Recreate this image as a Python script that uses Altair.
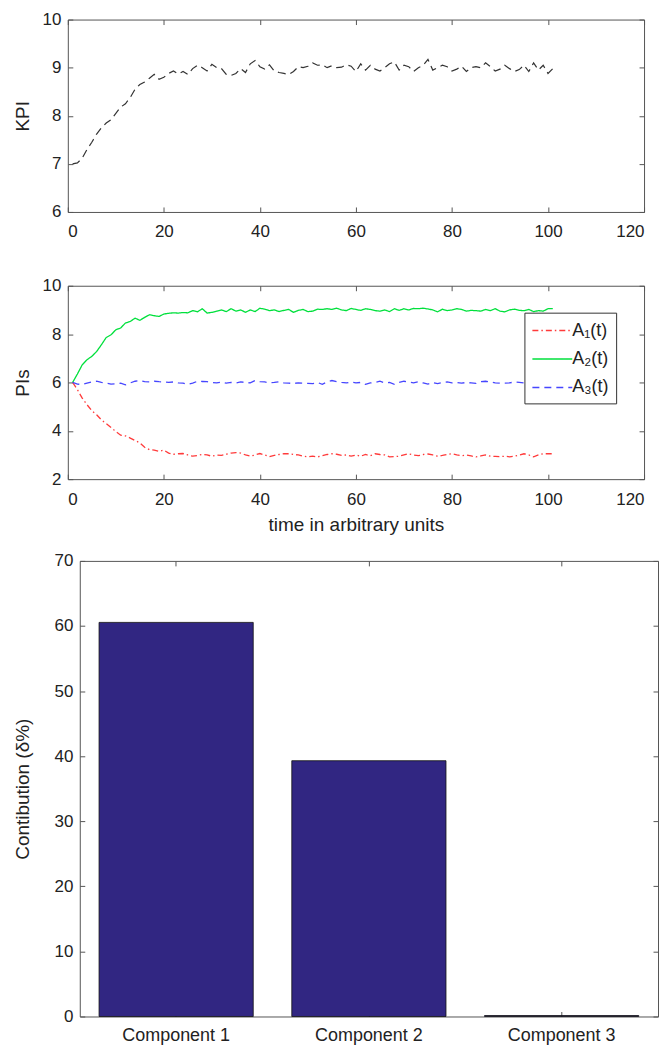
import altair as alt
import pandas as pd

# ---------------- data ----------------
t = list(range(1, 102))

kpi = [7.00, 7.02, 7.12, 7.30, 7.45, 7.62, 7.75, 7.85, 7.92, 8.05,
       8.18, 8.25, 8.38, 8.55, 8.65, 8.70, 8.78, 8.86, 8.76, 8.80,
       8.88, 8.93, 8.87, 8.92, 8.86, 8.98, 9.05, 9.00, 8.93, 9.07,
       9.00, 8.98, 8.86, 8.84, 8.88, 8.98, 8.90, 9.08, 9.15, 9.02,
       8.97, 9.06, 8.93, 8.90, 8.88, 8.86, 8.92, 9.02, 9.00, 9.03,
       9.10, 9.05, 9.06, 9.00, 9.04, 9.00, 9.01, 9.06, 9.03, 8.92,
       9.08, 8.95, 9.05, 8.97, 8.93, 9.00, 9.08, 9.12, 8.95, 9.05,
       9.02, 8.92, 9.00, 9.05, 9.17, 8.95, 9.00, 9.05, 9.02, 8.93,
       8.97, 9.03, 8.92, 9.00, 9.02, 9.00, 9.10, 9.02, 8.93, 8.97,
       9.05, 8.98, 8.92, 8.96, 9.05, 8.92, 9.10, 8.95, 9.05, 8.88, 8.98]

a1 = [6.00, 5.70, 5.35, 5.08, 4.83, 4.66, 4.45, 4.30, 4.14, 3.97,
      3.82, 3.79, 3.70, 3.60, 3.50, 3.32, 3.22, 3.20, 3.15, 3.20,
      3.08, 3.03, 3.05, 3.06, 3.00, 2.95, 2.98, 3.02, 3.00, 2.95,
      3.00, 2.98, 3.03, 3.08, 3.10, 3.08, 3.00, 2.95, 3.00, 3.06,
      3.00, 2.93, 2.98, 3.02, 3.05, 3.05, 3.02, 3.00, 2.95, 2.92,
      2.95, 2.92, 2.97, 3.02, 3.05, 3.03, 2.98, 3.00, 2.95, 3.00,
      2.95, 3.02, 2.97, 3.05, 3.02, 3.00, 2.92, 2.93, 2.95, 3.00,
      3.05, 3.00, 2.97, 3.02, 3.04, 3.00, 2.95, 2.98, 3.02, 3.05,
      3.00, 2.97, 3.00, 2.96, 2.92, 2.96, 3.00, 2.95, 2.94, 2.93,
      2.95, 2.92, 2.95, 3.00, 3.05, 3.00, 2.92, 3.00, 3.05, 3.05, 3.05]

a2 = [6.00, 6.35, 6.73, 6.94, 7.08, 7.28, 7.56, 7.86, 7.97, 8.18,
      8.25, 8.46, 8.52, 8.66, 8.57, 8.69, 8.80, 8.76, 8.73, 8.83,
      8.86, 8.88, 8.87, 8.89, 8.88, 8.97, 8.92, 9.05, 8.87, 8.90,
      8.95, 9.00, 8.93, 9.05, 8.95, 9.00, 8.90, 9.00, 8.93, 9.07,
      9.03, 8.97, 9.00, 8.93, 8.98, 9.02, 8.90, 8.98, 9.02, 8.93,
      8.95, 9.03, 9.02, 9.05, 9.02, 9.07, 9.00, 8.97, 9.06, 9.02,
      8.98, 9.05, 9.02, 8.97, 8.95, 9.00, 8.93, 9.05, 8.98, 9.05,
      9.00, 9.06, 9.05, 9.07, 9.04, 9.00, 8.92, 9.03, 8.97, 9.00,
      9.05, 9.02, 8.95, 8.98, 8.97, 8.95, 9.02, 8.97, 9.05, 8.95,
      8.92, 9.00, 9.03, 8.98, 8.97, 9.02, 8.93, 8.97, 8.95, 9.05, 9.05]

a3 = [6.00, 5.93, 5.92, 5.97, 6.02, 6.05, 6.00, 5.97, 5.93, 5.94,
      5.97, 5.90, 5.98, 6.05, 6.08, 6.03, 6.02, 6.05, 6.03, 6.02,
      6.00, 6.02, 5.98, 5.97, 5.92, 5.97, 6.05, 6.04, 6.03, 6.00,
      5.98, 6.02, 5.97, 6.00, 5.98, 6.02, 6.00, 5.98, 6.08, 6.03,
      6.02, 5.98, 6.00, 6.03, 5.98, 5.97, 5.96, 5.98, 5.97, 5.96,
      5.95, 6.00, 5.92, 6.03, 6.08, 6.03, 6.00, 5.98, 6.02, 5.98,
      6.00, 5.92, 5.98, 6.00, 6.05, 5.98, 6.00, 5.92, 6.00, 6.05,
      6.02, 5.98, 6.03, 5.98, 5.93, 6.00, 5.95, 6.00, 6.02, 5.98,
      6.00, 5.97, 6.00, 5.98, 5.96, 6.03, 6.05, 6.02, 5.98, 5.97,
      5.97, 5.98, 6.02, 6.00, 5.98, 6.00, 6.02, 6.00, 5.98, 6.00, 6.00]

series_names = ["A\u2081(t)", "A\u2082(t)", "A\u2083(t)"]
series_colors = ["#ff3a3a", "#00e03c", "#4646ff"]
series_dashes = [[6, 3, 1.5, 3], [1, 0], [7, 5]]

components = ["Component 1", "Component 2", "Component 3"]
contribution = [60.55, 39.3, 0.15]

x_ticks = [0, 20, 40, 60, 80, 100, 120]
kpi_ticks = [6, 7, 8, 9, 10]
pi_ticks = [2, 4, 6, 8, 10]
bar_ticks = [0, 10, 20, 30, 40, 50, 60, 70]

# ---------------- layout constants ----------------
FONT = "Liberation Sans"
TXT = "#222222"
EDGE = "#555555"
W = 578          # time panels plot width
H1 = 193
H2 = 194
GW3 = 592        # bar panel group width
X3 = 12          # bar panel plot starts this far right of the shared origin
H3 = 457

kpi_df = pd.DataFrame({"t": t, "KPI": kpi})
pis_df = pd.concat(
    [pd.DataFrame({"t": t, "value": v, "series": n}) for v, n in zip([a1, a2, a3], series_names)],
    ignore_index=True,
)
bar_df = pd.DataFrame({"component": components, "value": contribution})


def tick_axis(orient, offset, values=None, domain=False):
    kw = dict(orient=orient, offset=offset, labels=False, ticks=True, tickSize=5,
              tickColor=EDGE, domain=domain, domainColor=EDGE, grid=False, title=None)
    if values is not None:
        kw["values"] = values
    return alt.Axis(**kw)


def time_panel(df, yfield, ydomain, yticks, ytitle, xaxis_extra, H, main_mark, extra_enc):
    xscale = alt.Scale(domain=[0, 120], nice=False)
    yscale = alt.Scale(domain=ydomain, nice=False)
    x_main = alt.X("t:Q", scale=xscale,
                   axis=alt.Axis(orient="bottom", values=x_ticks, ticks=False, tickSize=0,
                                 domain=False, grid=False, labelPadding=12, **xaxis_extra))
    y_main = alt.Y(f"{yfield}:Q", scale=yscale,
                   axis=alt.Axis(orient="left", values=yticks, ticks=False, tickSize=0,
                                 domain=False, grid=False, labelPadding=7,
                                 minExtent=26, maxExtent=26,
                                 title=ytitle, titlePadding=9))
    l1 = main_mark.encode(x=x_main, y=y_main, **extra_enc)
    l2 = alt.Chart(df).mark_point(opacity=0, size=1).encode(
        x=alt.X("t:Q", scale=xscale, axis=tick_axis("top", -H, x_ticks)),
        y=alt.Y(f"{yfield}:Q", scale=yscale, axis=tick_axis("right", -W, yticks)),
    )
    l3 = alt.Chart(df).mark_point(opacity=0, size=1).encode(
        x=alt.X("t:Q", scale=xscale, axis=tick_axis("bottom", -H, x_ticks)),
        y=alt.Y(f"{yfield}:Q", scale=yscale, axis=tick_axis("left", -W, yticks)),
    )
    return alt.layer(l1, l2, l3).resolve_axis(x="independent", y="independent").properties(
        width=W, height=H)


# top panel: a blank-space x title reserves the gap above the second panel
top = time_panel(
    kpi_df, "KPI", [6, 10], kpi_ticks, "KPI",
    {"title": " ", "titleFontSize": 12, "titlePadding": 9.5}, H1,
    alt.Chart(kpi_df).mark_line(color="#333333", strokeWidth=1.2, strokeDash=[8, 5]),
    {},
)

legend = alt.Legend(title=None, orient="none", legendX=458, legendY=27,
                    symbolType="M-2,0L2,0", symbolSize=400, symbolStrokeWidth=1.5,
                    symbolOffset=10,
                    labelFont=FONT, labelFontSize=18, labelColor=TXT, labelOffset=9,
                    padding=7, rowPadding=8.5, fillColor="white", strokeColor="#333333")

mid = time_panel(
    pis_df, "value", [2, 10], pi_ticks, "PIs",
    {"title": "time in arbitrary units", "titlePadding": 9}, H2,
    alt.Chart(pis_df).mark_line(strokeWidth=1.3),
    {
        "color": alt.Color("series:N", scale=alt.Scale(domain=series_names, range=series_colors),
                           legend=legend),
        "strokeDash": alt.StrokeDash("series:N",
                                     scale=alt.Scale(domain=series_names, range=series_dashes),
                                     legend=legend),
    },
)

# bar panel: its plot box is drawn by axis domains so that it can start X3 px to the right
xb_scale = alt.Scale(domain=components, range=[X3, GW3], paddingInner=0.2, paddingOuter=0.1)
yb_scale = alt.Scale(domain=[0, 70], nice=False)
b1 = alt.Chart(bar_df).mark_bar(color="#312682", stroke="#111111", strokeWidth=0.8).encode(
    x=alt.X("component:N", scale=xb_scale, sort=components,
            axis=alt.Axis(orient="bottom", ticks=False, tickSize=0, domain=True,
                          domainColor=EDGE, grid=False,
                          labelAngle=0, labelPadding=10, labelFontSize=18, title=None)),
    y=alt.Y("value:Q", scale=yb_scale,
            axis=alt.Axis(orient="left", offset=-X3, values=bar_ticks, ticks=False, tickSize=0,
                          domain=True, domainColor=EDGE, grid=False, labelPadding=7,
                          minExtent=26, maxExtent=26,
                          title="Contibution (\u03b4%)", titlePadding=21)),
)
b2 = alt.Chart(bar_df).mark_bar(opacity=0).encode(
    x=alt.X("component:N", scale=xb_scale, sort=components, axis=tick_axis("top", -H3)),
    y=alt.Y("value:Q", scale=yb_scale, axis=tick_axis("right", X3 - GW3, bar_ticks)),
)
b3 = alt.Chart(bar_df).mark_bar(opacity=0).encode(
    x=alt.X("component:N", scale=xb_scale, sort=components,
            axis=tick_axis("bottom", -H3, domain=True)),
    y=alt.Y("value:Q", scale=yb_scale, axis=tick_axis("left", -GW3, bar_ticks, domain=True)),
)
bottom = alt.layer(b1, b2, b3).resolve_axis(x="independent", y="independent").properties(
    width=GW3, height=H3, view=alt.ViewBackground(stroke="transparent"))

chart = alt.vconcat(top, mid, bottom, spacing=15).resolve_legend(
    color="independent", strokeDash="independent"
).properties(
    padding={"left": 5, "top": 0, "right": 0, "bottom": 0}
).configure_view(
    stroke=EDGE, strokeWidth=1
).configure_axis(
    labelFont=FONT, titleFont=FONT, labelFontSize=17, titleFontSize=19,
    labelColor=TXT, titleColor=TXT, titleFontWeight="normal"
)

chart.save("out.html", embed_options={"renderer": "svg", "actions": False})
